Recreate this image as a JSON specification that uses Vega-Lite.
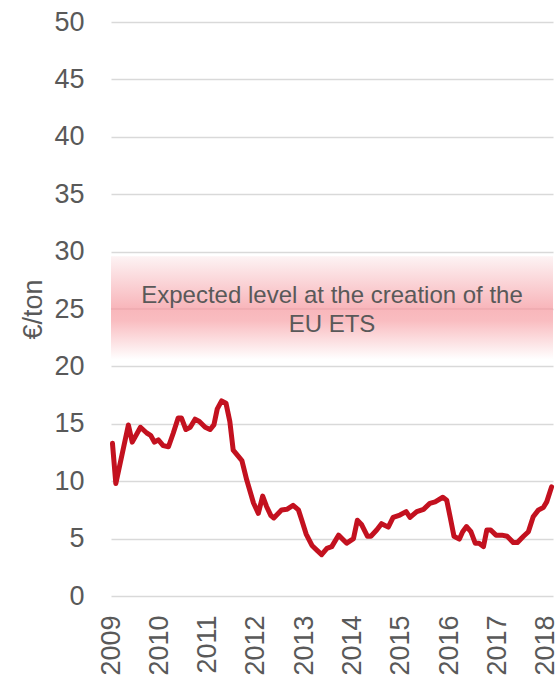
{
  "$schema": "https://vega.github.io/schema/vega-lite/v6.json",
  "width": 442,
  "height": 574,
  "autosize": {"type": "none"},
  "padding": {"left": 111, "top": 22, "right": 4, "bottom": 83},
  "background": "white",
  "config": {
    "view": {"stroke": null},
    "font": "Liberation Sans",
    "axis": {"labelFont": "Liberation Sans", "titleFont": "Liberation Sans"}
  },
  "layer": [
    {
      "data": {"values": [{"low": 20.6, "high": 29.6, "expected": 25}]},
      "mark": {
        "type": "rect",
        "fill": {
          "gradient": "linear",
          "x1": 0, "y1": 0, "x2": 0, "y2": 1,
          "stops": [
            {"offset": 0, "color": "#fdf3f4"},
            {"offset": 0.5, "color": "#f8b6bb"},
            {"offset": 0.62, "color": "#f9bcc0"},
            {"offset": 1, "color": "#ffffff"}
          ]
        }
      },
      "encoding": {
        "y": {"field": "high", "type": "quantitative", "scale": {"domain": [0, 50]}},
        "y2": {"field": "low"}
      }
    },
    {
      "data": {"values": [{"expected": 25}]},
      "mark": {"type": "rule", "color": "#e9a3a8", "strokeWidth": 1},
      "encoding": {
        "y": {"field": "expected", "type": "quantitative"}
      }
    },
    {
      "data": {
        "values": [
          {"year": 2009.03, "price": 13.3}, {"year": 2009.10, "price": 9.8}, {"year": 2009.36, "price": 14.9},
          {"year": 2009.44, "price": 13.4}, {"year": 2009.61, "price": 14.7}, {"year": 2009.74, "price": 14.2},
          {"year": 2009.82, "price": 14.0}, {"year": 2009.90, "price": 13.4}, {"year": 2009.98, "price": 13.6},
          {"year": 2010.08, "price": 13.1}, {"year": 2010.19, "price": 13.0}, {"year": 2010.29, "price": 14.2},
          {"year": 2010.39, "price": 15.5}, {"year": 2010.46, "price": 15.5}, {"year": 2010.55, "price": 14.5},
          {"year": 2010.64, "price": 14.7}, {"year": 2010.74, "price": 15.4}, {"year": 2010.83, "price": 15.2},
          {"year": 2010.95, "price": 14.7}, {"year": 2011.05, "price": 14.5}, {"year": 2011.13, "price": 14.9},
          {"year": 2011.20, "price": 16.3}, {"year": 2011.29, "price": 17.0}, {"year": 2011.38, "price": 16.8},
          {"year": 2011.46, "price": 15.2}, {"year": 2011.53, "price": 12.7}, {"year": 2011.71, "price": 11.8},
          {"year": 2011.81, "price": 10.1}, {"year": 2011.95, "price": 8.1}, {"year": 2012.05, "price": 7.2},
          {"year": 2012.14, "price": 8.7}, {"year": 2012.22, "price": 7.8}, {"year": 2012.31, "price": 7.0},
          {"year": 2012.37, "price": 6.8}, {"year": 2012.53, "price": 7.5}, {"year": 2012.64, "price": 7.55},
          {"year": 2012.77, "price": 7.9}, {"year": 2012.88, "price": 7.5}, {"year": 2012.95, "price": 6.6},
          {"year": 2013.04, "price": 5.4}, {"year": 2013.16, "price": 4.4}, {"year": 2013.26, "price": 4.0},
          {"year": 2013.36, "price": 3.6}, {"year": 2013.47, "price": 4.15}, {"year": 2013.57, "price": 4.3},
          {"year": 2013.71, "price": 5.3}, {"year": 2013.88, "price": 4.6}, {"year": 2014.02, "price": 5.0},
          {"year": 2014.10, "price": 6.6}, {"year": 2014.19, "price": 6.2}, {"year": 2014.31, "price": 5.2},
          {"year": 2014.38, "price": 5.2}, {"year": 2014.50, "price": 5.75}, {"year": 2014.60, "price": 6.3},
          {"year": 2014.74, "price": 6.0}, {"year": 2014.84, "price": 6.85}, {"year": 2014.98, "price": 7.05},
          {"year": 2015.11, "price": 7.35}, {"year": 2015.19, "price": 6.85}, {"year": 2015.33, "price": 7.35},
          {"year": 2015.47, "price": 7.55}, {"year": 2015.60, "price": 8.07}, {"year": 2015.71, "price": 8.2},
          {"year": 2015.87, "price": 8.6}, {"year": 2015.95, "price": 8.35}, {"year": 2016.02, "price": 6.9},
          {"year": 2016.10, "price": 5.2}, {"year": 2016.21, "price": 4.95}, {"year": 2016.28, "price": 5.6},
          {"year": 2016.36, "price": 6.05}, {"year": 2016.45, "price": 5.6}, {"year": 2016.54, "price": 4.6},
          {"year": 2016.62, "price": 4.6}, {"year": 2016.71, "price": 4.3}, {"year": 2016.78, "price": 5.75},
          {"year": 2016.86, "price": 5.75}, {"year": 2016.97, "price": 5.3}, {"year": 2017.09, "price": 5.3},
          {"year": 2017.20, "price": 5.2}, {"year": 2017.33, "price": 4.65}, {"year": 2017.41, "price": 4.65},
          {"year": 2017.54, "price": 5.2}, {"year": 2017.64, "price": 5.6}, {"year": 2017.74, "price": 6.9},
          {"year": 2017.85, "price": 7.5}, {"year": 2017.95, "price": 7.7}, {"year": 2018.02, "price": 8.2},
          {"year": 2018.12, "price": 9.5}
        ]
      },
      "mark": {"type": "line", "color": "#c3111f", "strokeWidth": 5, "strokeJoin": "round", "strokeCap": "round"},
      "encoding": {
        "x": {
          "field": "year", "type": "quantitative",
          "scale": {"domain": [2009, 2018.15], "nice": false, "zero": false},
          "axis": {
            "title": null,
            "values": [2009, 2010, 2011, 2012, 2013, 2014, 2015, 2016, 2017, 2018],
            "format": "d",
            "labelAngle": -90,
            "labelFontSize": 27,
            "labelColor": "#595959",
            "labelPadding": 19,
            "ticks": false,
            "domain": false,
            "grid": false,
            "labelFlush": false,
            "labelOverlap": false
          }
        },
        "y": {
          "field": "price", "type": "quantitative",
          "scale": {"domain": [0, 50], "nice": false},
          "axis": {
            "title": "€/ton",
            "titleFontSize": 27,
            "titleFontWeight": "normal",
            "titleColor": "#595959",
            "titlePadding": 6,
            "values": [0, 5, 10, 15, 20, 25, 30, 35, 40, 45, 50],
            "labelFontSize": 27,
            "labelColor": "#595959",
            "labelPadding": 27,
            "ticks": false,
            "domain": false,
            "grid": true,
            "gridColor": "#d9d9d9",
            "gridWidth": 1.5,
            "labelFlush": false,
            "labelOverlap": false
          }
        }
      }
    },
    {
      "data": {"values": [{"expected": 25}]},
      "mark": {
        "type": "text",
        "text": ["Expected level at the creation of the", "EU ETS"],
        "fontSize": 24,
        "color": "#595959",
        "align": "center",
        "baseline": "alphabetic",
        "lineHeight": 28.5,
        "dy": -6
      },
      "encoding": {
        "y": {"field": "expected", "type": "quantitative"}
      }
    }
  ]
}
